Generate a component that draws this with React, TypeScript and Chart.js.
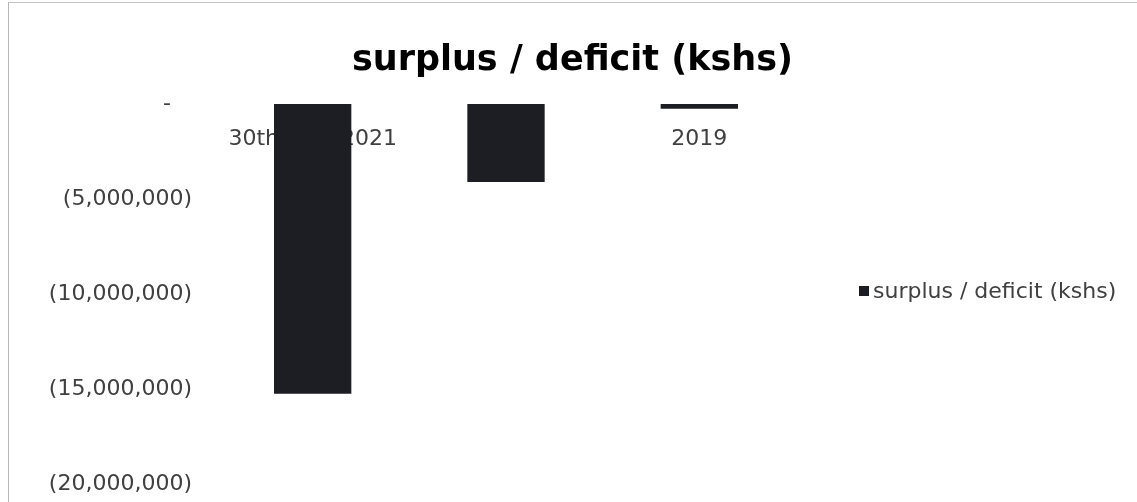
import React, { useEffect, useRef } from "react";
import { Chart, registerables } from "chart.js";

Chart.register(...registerables);

// Data
const categories = ["30th June 2021", "2020", "2019"];
const surplusDeficit = [-15250000, -4100000, -250000];
const seriesLabel = "surplus / deficit (kshs)";
const chartTitle = "surplus / deficit (kshs)";
const yMin = -20000000;
const yMax = 0;
const yStep = 5000000;

const FONT = "'DejaVu Sans', sans-serif";
const TEXT = "#404040";
const BAR = "#1d1d24";

// Accounting style: negatives in parentheses, zero as a dash
const formatAccounting = (v: number) => {
  if (v === 0) return "-\u00a0\u00a0\u00a0";
  const s = Math.abs(v).toLocaleString("en-US");
  return v < 0 ? `(${s})` : s;
};

// Legend entry drawn in the space to the right of the plot
const sideLegend = {
  id: "sideLegend",
  afterDraw(chart: Chart) {
    const { ctx } = chart;
    const ds = chart.data.datasets[0];
    ctx.save();
    ctx.fillStyle = ds.backgroundColor as string;
    ctx.fillRect(859, 286, 10, 10);
    ctx.fillStyle = TEXT;
    ctx.font = `22px ${FONT}`;
    ctx.textBaseline = "middle";
    ctx.textAlign = "left";
    ctx.fillText(ds.label as string, 873, 292);
    ctx.restore();
  },
};

export default function App() {
  const canvasRef = useRef<HTMLCanvasElement>(null);

  useEffect(() => {
    if (!canvasRef.current) return;
    const chart = new Chart(canvasRef.current, {
      type: "bar",
      data: {
        labels: categories,
        datasets: [
          {
            label: seriesLabel,
            data: surplusDeficit,
            backgroundColor: BAR,
            borderWidth: 0,
            categoryPercentage: 1,
            barPercentage: 0.4,
          },
        ],
      },
      options: {
        animation: false,
        responsive: false,
        layout: { padding: { top: 0, left: 8, right: 0, bottom: 18 } },
        plugins: {
          legend: { display: false },
          tooltip: { enabled: false },
          title: {
            display: true,
            text: chartTitle,
            color: "#000000",
            font: { family: FONT, size: 35, weight: "bold" },
            padding: { top: 40, bottom: 22 },
          },
        },
        scales: {
          x: {
            position: { y: 0 },
            grid: { display: false, drawTicks: false },
            border: { display: false },
            afterFit: (scale: any) => {
              scale.height = 0;
            },
            ticks: {
              color: TEXT,
              font: { family: FONT, size: 22 },
              padding: 22,
              maxRotation: 0,
              autoSkip: false,
            },
          },
          y: {
            min: yMin,
            max: yMax,
            // hidden tick marks keep the labels 24px left of the plot
            grid: { display: false, drawTicks: true, tickLength: 24 },
            border: { display: false },
            afterFit: (scale: any) => {
              scale.width = 208;
            },
            ticks: {
              stepSize: yStep,
              color: TEXT,
              padding: 0,
              font: { family: FONT, size: 22 },
              callback: (v: any) => formatAccounting(Number(v)),
            },
          },
          // Blank axis that reserves the legend column on the right
          side: {
            type: "linear",
            position: "right",
            grid: { display: false, drawTicks: false },
            border: { display: false },
            ticks: { display: false },
            afterFit: (scale: any) => {
              scale.width = 341;
            },
          },
        },
      },
      plugins: [sideLegend],
    });
    return () => chart.destroy();
  }, []);

  return (
    <div
      style={{
        position: "fixed",
        left: 0,
        top: 0,
        width: 1137,
        height: 502,
        background: "#ffffff",
        overflow: "hidden",
      }}
    >
      <canvas ref={canvasRef} width={1137} height={502} style={{ display: "block" }} />
      <div
        style={{
          position: "absolute",
          left: 8,
          top: 2,
          width: 1140,
          height: 510,
          borderTop: "1px solid #c4c4c4",
          borderLeft: "1px solid #b8b8b8",
          pointerEvents: "none",
        }}
      />
    </div>
  );
}
